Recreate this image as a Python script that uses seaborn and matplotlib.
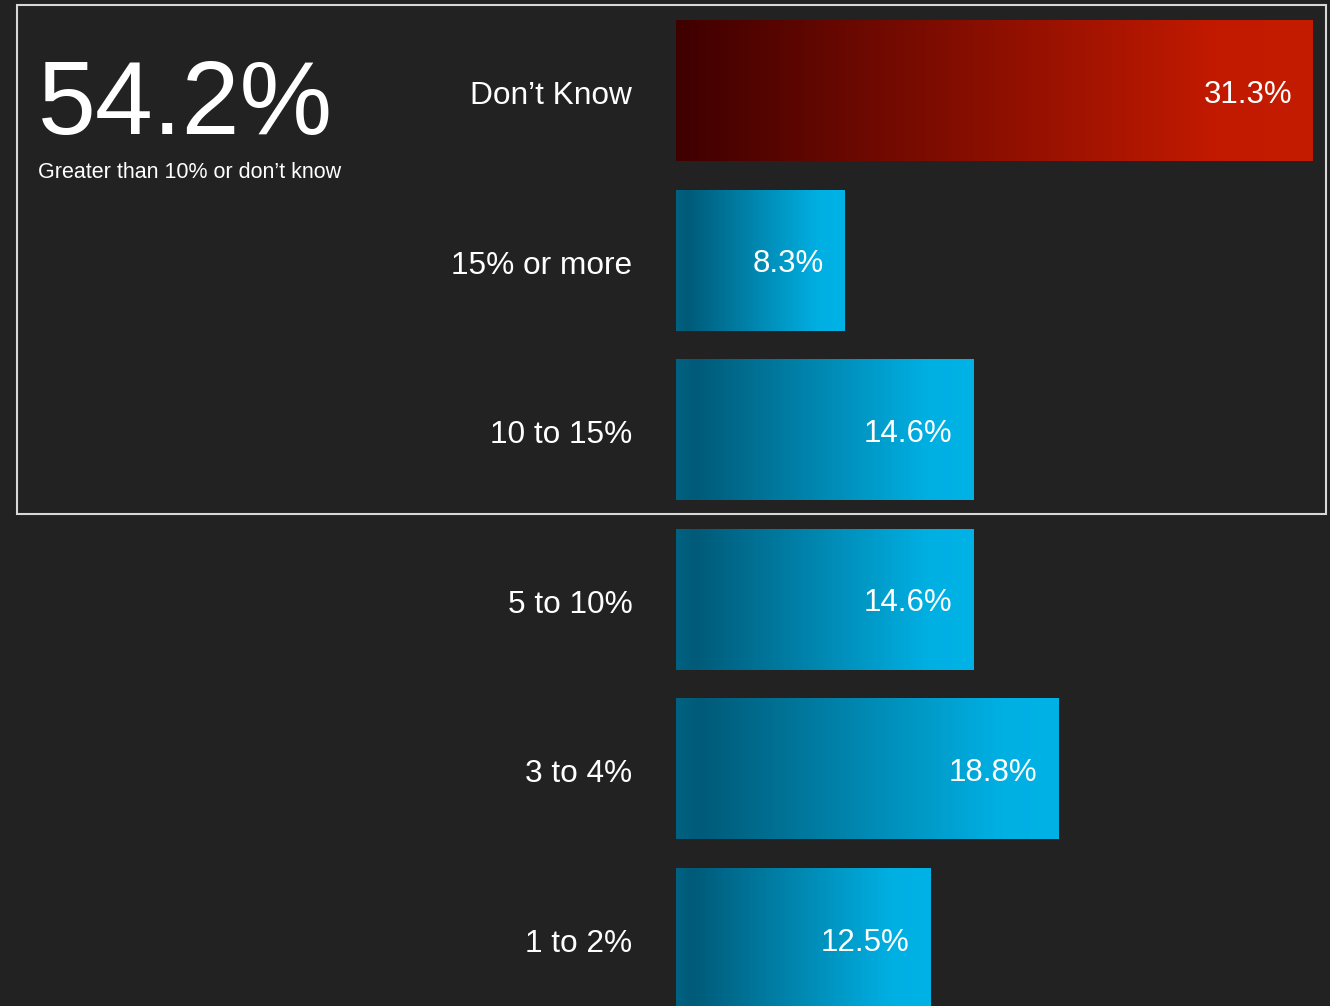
import numpy as np
import pandas as pd
import matplotlib
matplotlib.use("Agg")
import matplotlib.pyplot as plt
from matplotlib.colors import LinearSegmentedColormap
from matplotlib.patches import Rectangle
from matplotlib.transforms import ScaledTranslation
import seaborn as sns

# Survey answers and their shares (%)
categories = ["Don\u2019t Know", "15% or more", "10 to 15%", "5 to 10%", "3 to 4%", "1 to 2%"]
shares = [31.3, 8.3, 14.6, 14.6, 18.8, 12.5]
highlight_total = "54.2%"
highlight_caption = "Greater than 10% or don\u2019t know"

BG = "#222222"
sns.set_theme(style="dark", rc={"figure.facecolor": BG, "axes.facecolor": BG,
                                "savefig.facecolor": BG})
plt.rcParams["font.family"] = ["Liberation Sans", "DejaVu Sans"]

W, H = 1330, 1006
fig = plt.figure(figsize=(W / 100, H / 100), dpi=100)
ax = fig.add_axes([676 / W, 0, (W - 676) / W, 1])

df = pd.DataFrame({"answer": categories, "share": shares})
sns.barplot(data=df, x="share", y="answer", orient="h", width=0.83,
            color="#00a0d0", ax=ax, zorder=1)

red_cmap = LinearSegmentedColormap.from_list(
    "red", [(0, "#3f0000"), (0.85, "#c21a00"), (1, "#c41c00")])
blue_cmap = LinearSegmentedColormap.from_list(
    "blue", [(0, "#006282"), (0.06, "#005a78"), (0.85, "#00b0e3"), (1, "#00b2e6")])

grad = np.linspace(0, 1, 256).reshape(1, -1)
for i, patch in enumerate(ax.patches):
    x0, y0 = patch.get_x(), patch.get_y()
    w, h = patch.get_width(), patch.get_height()
    cmap = red_cmap if i == 0 else blue_cmap
    ax.imshow(grad, cmap=cmap, extent=(x0, x0 + w, y0 + h, y0),
              aspect="auto", interpolation="bicubic", zorder=2, clip_path=patch)
    patch.set_facecolor("none")
    patch.set_edgecolor("none")

for i, v in enumerate(shares):
    ax.annotate(f"{v}%", xy=(v, i), xytext=(-15, -3), textcoords="offset points",
                ha="right", va="center", color="white", fontsize=22.5, zorder=3)

ax.set_xlim(0, 32.14)
ax.set_ylim(5.398, -0.534)
ax.set_xlabel("")
ax.set_ylabel("")
ax.xaxis.set_visible(False)
for s in ax.spines.values():
    s.set_visible(False)
ax.tick_params(axis="y", length=0, pad=31.5, labelsize=22.8, labelcolor="white")
shift = ScaledTranslation(0, -1.5 / 72, fig.dpi_scale_trans)
for lbl in ax.get_yticklabels():
    lbl.set_transform(lbl.get_transform() + shift)
ax.grid(False)

fig.text(38 / W, 1 - 134 / H, highlight_total, color="white", fontsize=75,
         ha="left", va="baseline")
fig.text(38 / W, 1 - 178 / H, highlight_caption, color="white", fontsize=15.5,
         ha="left", va="baseline")

box = Rectangle((17 / W, 1 - 514 / H), (1326 - 17) / W, (514 - 5) / H,
                transform=fig.transFigure, fill=False, edgecolor="#d8d8d8",
                linewidth=1.5, zorder=10)
fig.add_artist(box)

fig.savefig("out.png", dpi=100, facecolor=BG)
